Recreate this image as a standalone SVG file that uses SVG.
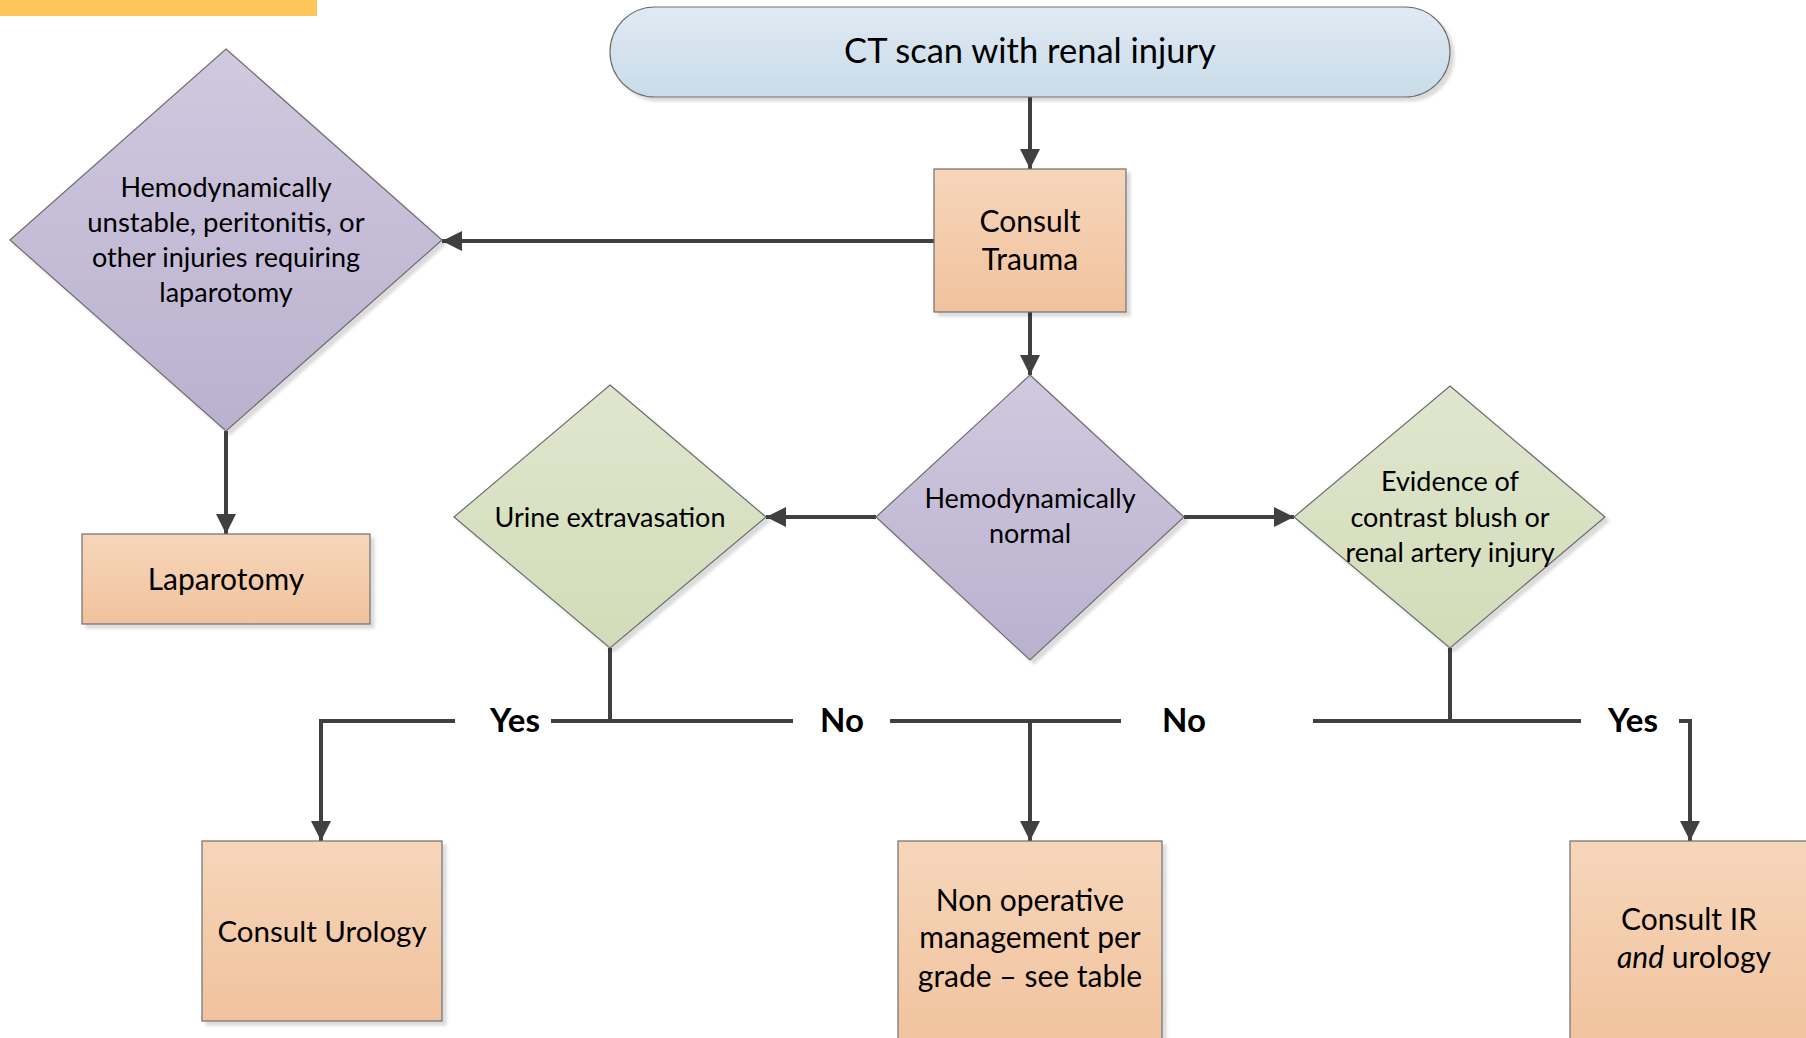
<svg xmlns="http://www.w3.org/2000/svg" width="1806" height="1038" viewBox="0 0 1806 1038">
<defs>
<linearGradient id="gBlue" x1="0" y1="0" x2="0" y2="1"><stop offset="0" stop-color="#e0eaf3"/><stop offset="1" stop-color="#c9dbe9"/></linearGradient>
<linearGradient id="gOrange" x1="0" y1="0" x2="0" y2="1"><stop offset="0" stop-color="#f6d6ba"/><stop offset="1" stop-color="#f1c29d"/></linearGradient>
<linearGradient id="gPurple" x1="0" y1="0" x2="0" y2="1"><stop offset="0" stop-color="#d0c9df"/><stop offset="1" stop-color="#bab1cf"/></linearGradient>
<linearGradient id="gGreen" x1="0" y1="0" x2="0" y2="1"><stop offset="0" stop-color="#e0e6ce"/><stop offset="1" stop-color="#d2dcb8"/></linearGradient>
<filter id="shadow" x="-10%" y="-10%" width="130%" height="130%">
<feDropShadow dx="4" dy="4" stdDeviation="1.5" flood-color="#000" flood-opacity="0.14"/>
</filter>
<marker id="arrow" markerUnits="userSpaceOnUse" markerWidth="20" markerHeight="20" refX="20" refY="10" orient="auto">
<path d="M0,0 L20,10 L0,20 z" fill="#404040"/>
</marker>
</defs>
<style>
.shape{stroke:#6e6e6e;stroke-width:1.2;filter:url(#shadow)}
.t{font-family:Lato,"Open Sans","Liberation Sans",sans-serif;fill:#000;text-anchor:middle}
.s29{font-size:27px}
.s32{font-size:30px}
.s37{font-size:34.5px}
.lbl{font-family:Lato,"Open Sans","Liberation Sans",sans-serif;font-weight:bold;font-size:33px;text-anchor:middle;fill:#000}
.c{fill:none;stroke:#404040;stroke-width:4}
</style>
<rect x="0" y="0" width="317" height="16" fill="#ffc55a"/>
<g id="connectors">
<path class="c" d="M1030 97 V169" marker-end="url(#arrow)"/>
<path class="c" d="M934 241 H442" marker-end="url(#arrow)"/>
<path class="c" d="M226 431 V534" marker-end="url(#arrow)"/>
<path class="c" d="M1030 312 V375" marker-end="url(#arrow)"/>
<path class="c" d="M876 517 H766" marker-end="url(#arrow)"/>
<path class="c" d="M1184 517 H1294" marker-end="url(#arrow)"/>
<path class="c" d="M610 648 V721 H551"/>
<path class="c" d="M455 721 H321 V841" marker-end="url(#arrow)"/>
<path class="c" d="M610 721 H793"/>
<path class="c" d="M890 721 H1030 V841" marker-end="url(#arrow)"/>
<path class="c" d="M1450 648 V721 H1313"/>
<path class="c" d="M1121 721 H1030"/>
<path class="c" d="M1450 721 H1581"/>
<path class="c" d="M1679 721 H1690 V841" marker-end="url(#arrow)"/>
<text class="lbl" x="515" y="732">Yes</text>
<text class="lbl" x="842" y="732">No</text>
<text class="lbl" x="1184" y="732">No</text>
<text class="lbl" x="1633" y="732">Yes</text>
</g>
<g id="ct-scan">
<rect class="shape" x="610" y="7" width="840" height="90" rx="45" ry="45" fill="url(#gBlue)"/>
<text class="t s37" x="1030" y="63">CT scan with renal injury</text>
</g>
<g id="consult-trauma">
<rect class="shape" x="934" y="169" width="192" height="143" fill="url(#gOrange)"/>
<text class="t s32" x="1030" y="232">Consult</text>
<text class="t s32" x="1030" y="270">Trauma</text>
</g>
<g id="unstable">
<polygon class="shape" points="226,49 442,240 226,431 10,240" fill="url(#gPurple)"/>
<text class="t s29" x="226" y="197">Hemodynamically</text>
<text class="t s29" x="226" y="232" style="font-size:27.5px">unstable, peritonitis, or</text>
<text class="t s29" x="226" y="267">other injuries requiring</text>
<text class="t s29" x="226" y="302">laparotomy</text>
</g>
<g id="laparotomy">
<rect class="shape" x="82" y="534" width="288" height="90" fill="url(#gOrange)"/>
<text class="t s32" x="226" y="590">Laparotomy</text>
</g>
<g id="hemo-normal">
<polygon class="shape" points="1030,375 1184,517 1030,660 876,517" fill="url(#gPurple)"/>
<text class="t s29" x="1030" y="508">Hemodynamically</text>
<text class="t s29" x="1030" y="543">normal</text>
</g>
<g id="urine">
<polygon class="shape" points="610,385 766,517 610,648 454,517" fill="url(#gGreen)"/>
<text class="t s29" x="610" y="527">Urine extravasation</text>
</g>
<g id="evidence">
<polygon class="shape" points="1450,386 1605,517 1450,648 1294,517" fill="url(#gGreen)"/>
<text class="t s29" x="1450" y="491">Evidence of</text>
<text class="t s29" x="1450" y="527">contrast blush or</text>
<text class="t s29" x="1450" y="562">renal artery injury</text>
</g>
<g id="consult-urology">
<rect class="shape" x="202" y="841" width="240" height="180" fill="url(#gOrange)"/>
<text class="t s32" x="322" y="942" style="font-size:29.5px">Consult Urology</text>
</g>
<g id="non-operative">
<rect class="shape" x="898" y="841" width="264" height="210" fill="url(#gOrange)"/>
<text class="t s32" x="1030" y="911">Non operative</text>
<text class="t s32" x="1030" y="948">management per</text>
<text class="t s32" x="1030" y="987">grade – see table</text>
</g>
<g id="consult-ir">
<rect class="shape" x="1570" y="841" width="240" height="210" fill="url(#gOrange)"/>
<text class="t s32" x="1689" y="930">Consult IR</text>
<text class="t s32" x="1694" y="968"><tspan font-style="italic">and</tspan> urology</text>
</g>
</svg>
